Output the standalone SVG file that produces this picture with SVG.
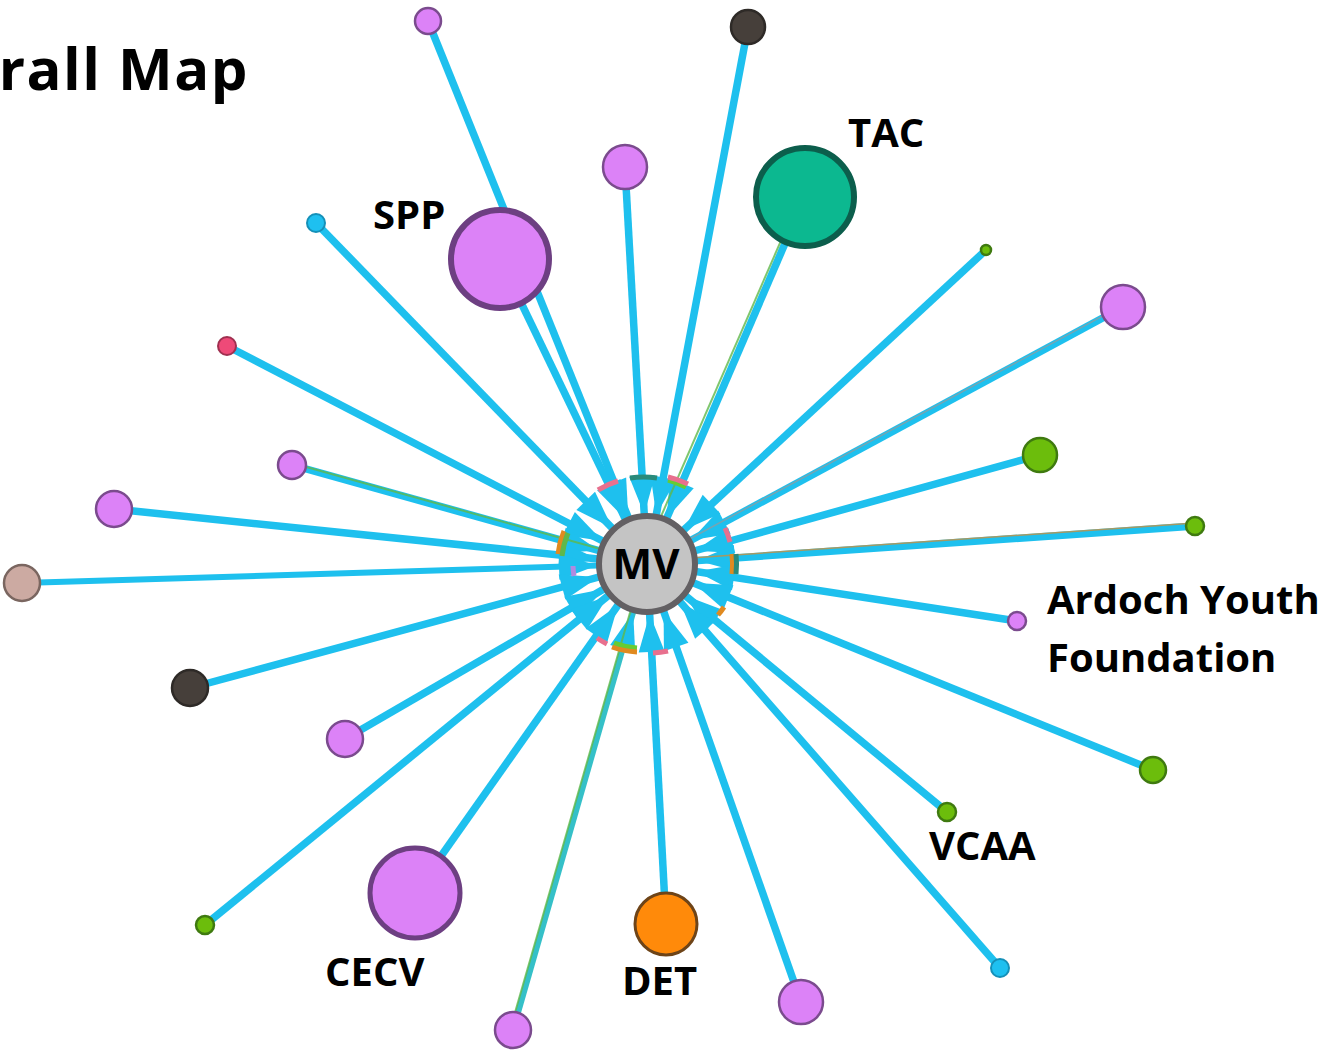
<svg xmlns="http://www.w3.org/2000/svg" width="1323" height="1050" viewBox="0 0 1323 1050">
<style>
.e{stroke:#1ec0ee;stroke-width:7.5;fill:none;marker-end:url(#ah)}
.e2{stroke:#5fb84a;stroke-width:2;fill:none;opacity:0.8}
.p{fill:#dc82f7;stroke:#7b4b8e;stroke-width:2.5}
.d{fill:#463f3a;stroke:#2e2a27;stroke-width:2.5}
.g{fill:#6cbd0c;stroke:#3f7a10;stroke-width:2.5}
.b{fill:#1ec0f0;stroke:#1590b8;stroke-width:2}
.r{fill:#ee4a78;stroke:#a03050;stroke-width:2}
.t{fill:#ccaaa2;stroke:#7a6660;stroke-width:2.5}
.lbl{font-family:"Open Sans","Noto Sans",sans-serif;font-weight:700;font-size:40px;fill:#000}
.arc{fill:none;stroke-width:5}
</style>
<defs>
<marker id="ah" markerUnits="userSpaceOnUse" markerWidth="120" markerHeight="40" refX="50" refY="0" orient="auto" overflow="visible">
<path d="M0,0 L-38,-13 L-38,13 Z" fill="#1ec0ee"/>
</marker>
</defs>
<rect width="1323" height="1050" fill="#fff"/>
<text x="249" y="90" text-anchor="end" style="font-family:'Open Sans','Noto Sans',sans-serif;font-weight:700;font-size:58px;letter-spacing:1.5px">rall Map</text>
<g id="connectors">
<line class="e" x1="428" y1="21" x2="647" y2="564"/>
<line class="e" x1="748" y1="27" x2="647" y2="564"/>
<line class="e" x1="805" y1="197" x2="647" y2="564"/>
<line class="e2" x1="800" y1="197" x2="642" y2="560"/>
<line class="e" x1="625" y1="167" x2="647" y2="564"/>
<line class="e" x1="500" y1="259" x2="647" y2="564"/>
<line class="e" x1="316" y1="223" x2="647" y2="564"/>
<line class="e" x1="986" y1="250" x2="647" y2="564"/>
<line class="e" x1="1123" y1="307" x2="647" y2="564"/>
<line stroke="#9a9a9a" stroke-width="1.5" opacity="0.7" x1="1123" y1="305" x2="647" y2="562"/>
<line class="e" x1="227" y1="346" x2="647" y2="564"/>
<line class="e" x1="292" y1="465" x2="647" y2="564"/>
<line class="e2" x1="292" y1="463" x2="647" y2="562"/>
<line class="e" x1="1040" y1="455" x2="647" y2="564"/>
<line class="e" x1="114" y1="509" x2="647" y2="564"/>
<line class="e" x1="1195" y1="526" x2="647" y2="564"/>
<line stroke="#c89040" stroke-width="1.5" opacity="0.8" x1="1195" y1="523" x2="647" y2="561"/>
<line class="e" x1="22" y1="583" x2="647" y2="564" style="stroke-width:6"/>
<line class="e" x1="1017" y1="621" x2="647" y2="564"/>
<line class="e" x1="190" y1="688" x2="647" y2="564"/>
<line class="e" x1="345" y1="739" x2="647" y2="564"/>
<line class="e" x1="1153" y1="770" x2="647" y2="564"/>
<line class="e" x1="947" y1="812" x2="647" y2="564"/>
<line class="e" x1="415" y1="893" x2="647" y2="564"/>
<line class="e" x1="205" y1="925" x2="647" y2="564"/>
<line class="e" x1="666" y1="924" x2="647" y2="564"/>
<line class="e" x1="1000" y1="968" x2="647" y2="564"/>
<line class="e" x1="801" y1="1002" x2="647" y2="564"/>
<line class="e" x1="513" y1="1030" x2="647" y2="564" style="stroke:#35c0c8;stroke-width:6"/>
<line class="e2" x1="510" y1="1030" x2="644" y2="564"/>
</g>
<g id="mv-arcs">
<path class="arc" stroke="#e8708e" d="M598,490 A88,88 0 0 1 618,481"/>
<path class="arc" stroke="#2a8a7a" d="M630,478 A88,88 0 0 1 657,478"/>
<path class="arc" stroke="#66cc33" d="M668,480 A88,88 0 0 1 686,487"/>
<path class="arc" stroke="#e8708e" stroke-width="2" d="M668,477 A91,91 0 0 1 688,484"/>
<path class="arc" stroke="#e8708e" d="M725,528 A88,88 0 0 1 730,542"/>
<path class="arc" stroke="#e08a20" d="M732,554 A88,88 0 0 1 732,574"/>
<path class="arc" stroke="#2a8a7a" stroke-width="3" d="M736,554 A92,92 0 0 1 736,574"/>
<path class="arc" stroke="#e08a20" d="M558,554 A88,88 0 0 1 564,531"/>
<path class="arc" stroke="#5fb84a" stroke-width="3" d="M562,556 A84,84 0 0 1 568,533"/>
<path class="arc" stroke="#66cc33" d="M637,648 A84,84 0 0 1 614,643"/>
<path class="arc" stroke="#e08a20" stroke-width="3" d="M637,652 A88,88 0 0 1 612,647"/>
<path class="arc" stroke="#e8708e" stroke-width="3" d="M668,651 A88,88 0 0 1 653,653"/>
<path class="arc" stroke="#e8708e" stroke-width="3" d="M607,644 A88,88 0 0 1 597,638"/>
<path class="arc" stroke="#e08a20" stroke-width="3" d="M724,607 A88,88 0 0 1 718,615"/>
<path class="arc" stroke="#b08ae0" stroke-width="3" d="M573,566 A74,74 0 0 0 574,576"/>
</g>
<g id="node-1"><circle class="p" cx="428" cy="21" r="13"/></g>
<g id="node-2"><circle class="d" cx="748" cy="27" r="17"/></g>
<g id="node-TAC"><circle cx="805" cy="197" r="49" fill="#0cb890" stroke="#0c5e4c" stroke-width="6"/></g>
<g id="node-4"><circle class="p" cx="625" cy="167" r="22"/></g>
<g id="node-SPP"><circle cx="500" cy="259" r="49" fill="#dc82f7" stroke="#6d3f82" stroke-width="6"/></g>
<g id="node-6"><circle class="b" cx="316" cy="223" r="9"/></g>
<g id="node-7"><circle class="g" cx="986" cy="250" r="5" stroke-width="1"/></g>
<g id="node-8"><circle class="p" cx="1123" cy="307" r="22"/></g>
<g id="node-9"><circle class="r" cx="227" cy="346" r="9"/></g>
<g id="node-10"><circle class="p" cx="292" cy="465" r="14"/></g>
<g id="node-11"><circle class="g" cx="1040" cy="455" r="17"/></g>
<g id="node-12"><circle class="p" cx="114" cy="509" r="18"/></g>
<g id="node-13"><circle class="g" cx="1195" cy="526" r="9"/></g>
<g id="node-14"><circle class="t" cx="22" cy="583" r="18"/></g>
<g id="node-Ardoch"><circle class="p" cx="1017" cy="621" r="9"/></g>
<g id="node-16"><circle class="d" cx="190" cy="688" r="18"/></g>
<g id="node-17"><circle class="p" cx="345" cy="739" r="18"/></g>
<g id="node-18"><circle class="g" cx="1153" cy="770" r="13"/></g>
<g id="node-VCAA"><circle class="g" cx="947" cy="812" r="9"/></g>
<g id="node-CECV"><circle cx="415" cy="893" r="45" fill="#dc82f7" stroke="#6d3f82" stroke-width="5"/></g>
<g id="node-21"><circle class="g" cx="205" cy="925" r="9"/></g>
<g id="node-DET"><circle cx="666" cy="924" r="31" fill="#ff8a0a" stroke="#6e4418" stroke-width="3"/></g>
<g id="node-23"><circle class="b" cx="1000" cy="968" r="9"/></g>
<g id="node-24"><circle class="p" cx="801" cy="1002" r="22"/></g>
<g id="node-25"><circle class="p" cx="513" cy="1030" r="18"/></g>
<g id="node-MV"><circle cx="647" cy="564" r="48" fill="#c4c4c4" stroke="#636063" stroke-width="6"/>
<text class="lbl" x="646" y="579" text-anchor="middle" style="font-size:42px">MV</text></g>
<g id="labels">
<text class="lbl" x="373" y="229">SPP</text>
<text class="lbl" x="848" y="147">TAC</text>
<text class="lbl" x="1047" y="614">Ardoch Youth</text>
<text class="lbl" x="1047" y="672">Foundation</text>
<text class="lbl" x="929" y="860">VCAA</text>
<text class="lbl" x="325" y="986">CECV</text>
<text class="lbl" x="622" y="995">DET</text>
</g>
</svg>
